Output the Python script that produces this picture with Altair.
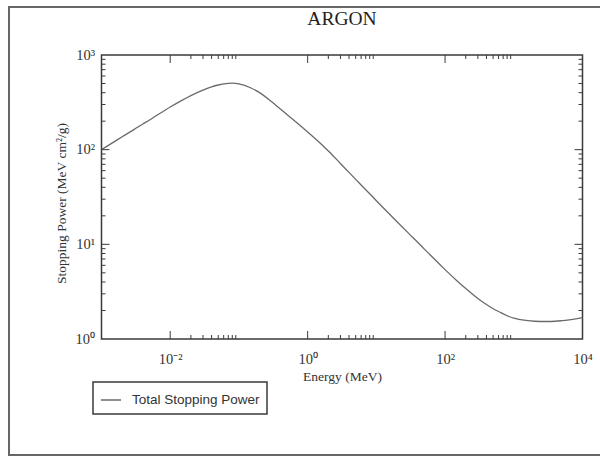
import altair as alt
import pandas as pd

# Proton total stopping power in argon (MeV cm^2/g) versus kinetic energy (MeV)
energy = [0.001, 0.0015, 0.002, 0.003, 0.004, 0.005, 0.006, 0.008, 0.01,
          0.015, 0.02, 0.03, 0.04, 0.05, 0.06, 0.07, 0.08, 0.1, 0.15, 0.2,
          0.3, 0.4, 0.5, 0.6, 0.8, 1, 1.5, 2, 3, 4, 5, 6, 8, 10, 15, 20, 30,
          40, 50, 60, 80, 100, 150, 200, 300, 400, 500, 600, 800, 1000, 1500,
          2000, 3000, 4000, 5000, 6000, 8000, 10000]
stopping = [100, 120, 137, 164, 187, 206, 224, 255, 282,
            334, 373, 425, 460, 482, 495, 502, 504, 495, 448, 400,
            320, 269, 235, 211, 177, 154, 118.5, 97, 71.5, 57.5, 48.6, 42.4, 34.2, 28.9,
            21.4, 17.3, 12.9, 10.5, 8.9, 7.8, 6.34, 5.41, 4.1, 3.41, 2.68, 2.31,
            2.09, 1.95, 1.76, 1.66, 1.57, 1.54, 1.53, 1.54, 1.56, 1.58, 1.63, 1.68]
series_name = "Total Stopping Power"

# Axis labels (labelled decades) and inward tick marks
x_label_values = [0.01, 1, 100, 10000]
x_label_text = ["10\u207b\u00b2", "10\u2070", "10\u00b2", "10\u2074"]
y_label_values = [1, 10, 100, 1000]
y_label_text = ["10\u2070", "10\u00b9", "10\u00b2", "10\u00b3"]
x_major_ticks = [0.01, 1, 100]
x_minor_ticks = [m * d for d in (0.01, 1, 100) for m in range(2, 10)]
y_major_ticks = [10, 100]
y_minor_ticks = [m * d for d in (1, 10, 100) for m in range(2, 10)]

W, H = 481, 284
MAJOR, MINOR = 8, 4
AXIS_COLOR = "#3a3a3a"
SERIF = "Liberation Serif"


def label_expr(values, texts):
    expr = "''"
    for v, t in zip(reversed(values), reversed(texts)):
        expr = f"abs(datum.value - {v}) < {v} * 1e-6 ? '{t}' : ({expr})"
    return expr


xscale = alt.Scale(type="log", domain=[1e-3, 1e4], nice=False)
yscale = alt.Scale(type="log", domain=[1, 1000], nice=False)

curve_df = pd.DataFrame({"E": energy, "S": stopping, "series": series_name})

curve = alt.Chart(curve_df).mark_line(strokeWidth=1.3, interpolate="monotone").encode(
    x=alt.X("E:Q", scale=xscale,
            axis=alt.Axis(values=x_label_values, labelExpr=label_expr(x_label_values, x_label_text),
                          title="Energy (MeV)", titleFont=SERIF, titleFontSize=13.5,
                          titleFontWeight="normal", titleColor="#333",
                          titleBaseline="middle", titleY=37,
                          labelFont=SERIF, labelFontSize=14.5, labelColor="#333",
                          labelPadding=13, labelFlush=False)),
    y=alt.Y("S:Q", scale=yscale,
            axis=alt.Axis(values=y_label_values, labelExpr=label_expr(y_label_values, y_label_text),
                          title="Stopping Power (MeV cm\u00b2/g)", titleFont=SERIF, titleFontSize=13.5,
                          titleFontWeight="normal", titleColor="#333",
                          titleBaseline="middle", titleX=-40, titleY=148,
                          labelFont=SERIF, labelFontSize=14.5, labelColor="#333",
                          labelPadding=7, labelFlush=False)),
    color=alt.Color("series:N", scale=alt.Scale(domain=[series_name], range=["#6a6a6a"]),
                    legend=alt.Legend(title=None, orient="none", legendX=-8.5, legendY=327,
                                      symbolType="stroke", symbolSize=400, symbolStrokeWidth=1.5,
                                      labelFont="Liberation Sans", labelFontSize=13.5,
                                      labelColor="#333", labelOffset=10, padding=7,
                                      strokeColor=AXIS_COLOR)),
)


def tick_layer(values, orient, length):
    # Short rules drawn inward from each side of the plot frame
    df = pd.DataFrame({"E": values, "S": values})
    base = alt.Chart(df).mark_rule(color=AXIS_COLOR, strokeWidth=1)
    if orient == "bottom":
        return base.encode(x=alt.X("E:Q", scale=xscale),
                           y=alt.value(H), y2=alt.value(H - length))
    if orient == "top":
        return base.encode(x=alt.X("E:Q", scale=xscale),
                           y=alt.value(0), y2=alt.value(length))
    if orient == "left":
        return base.encode(y=alt.Y("S:Q", scale=yscale),
                           x=alt.value(0), x2=alt.value(length))
    return base.encode(y=alt.Y("S:Q", scale=yscale),
                       x=alt.value(W), x2=alt.value(W - length))


ticks = []
for side in ("bottom", "top"):
    ticks.append(tick_layer(x_major_ticks, side, MAJOR))
    ticks.append(tick_layer(x_minor_ticks, side, MINOR))
for side in ("left", "right"):
    ticks.append(tick_layer(y_major_ticks, side, MAJOR))
    ticks.append(tick_layer(y_minor_ticks, side, MINOR))

# Outer page frame around the whole figure
frame = alt.Chart(pd.DataFrame({"k": [0]})).mark_rect(
    fill=None, stroke="#666", strokeWidth=2
).encode(x=alt.value(-92.5), x2=alt.value(520), y=alt.value(-48), y2=alt.value(400))

chart = alt.layer(curve, *ticks, frame).properties(
    width=W, height=H,
    padding={"left": 101.5, "top": 55, "right": 17.5, "bottom": 118},
    autosize=alt.AutoSizeParams(type="none"),
    title=alt.TitleParams("ARGON", font=SERIF, fontSize=19.5, fontWeight="normal",
                          color="#222", offset=-23, anchor="middle", frame="group"),
).configure_view(
    stroke=AXIS_COLOR, strokeWidth=1.5
).configure_axis(
    domain=False, ticks=False, grid=False
).configure_legend(
    strokeWidth=1.5
)

chart.save("out.html", embed_options={"renderer": "svg", "actions": False})
